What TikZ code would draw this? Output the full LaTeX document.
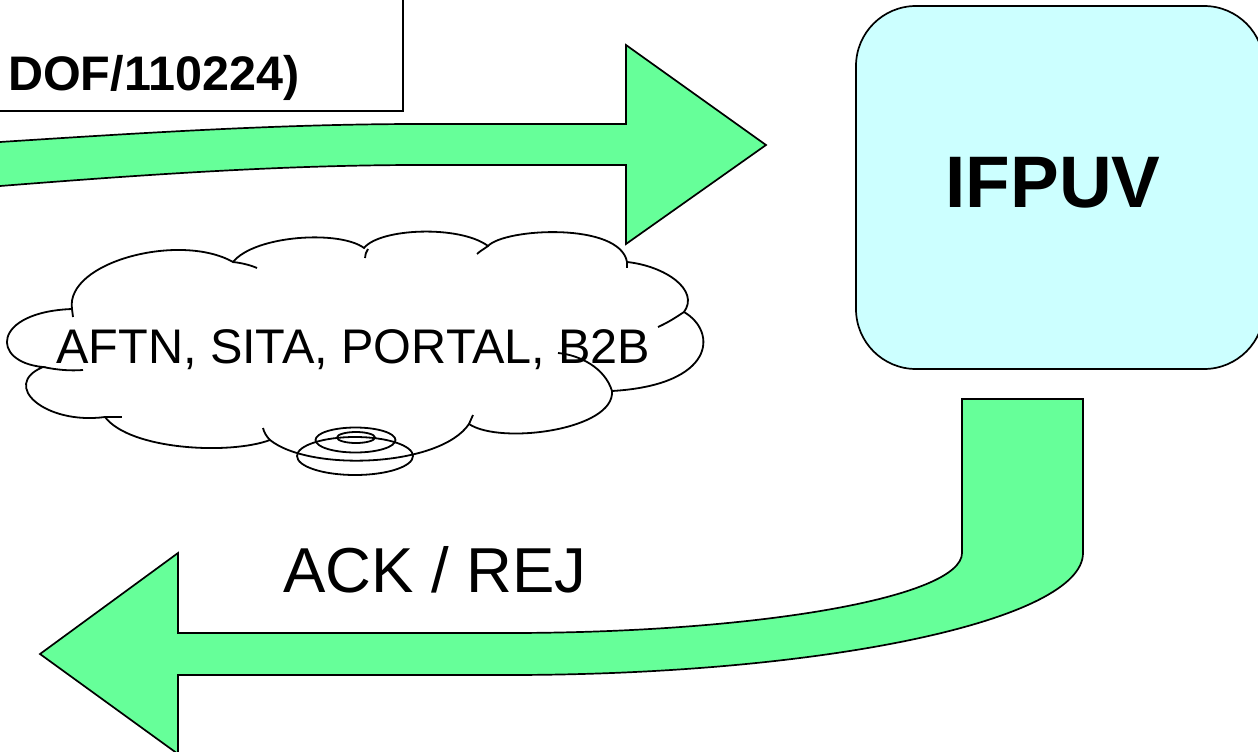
\documentclass[tikz,border=0pt]{standalone}
\usepackage{fontspec}
\setmainfont{Liberation Sans}
\definecolor{arrowgreen}{HTML}{66FF99}
\definecolor{boxcyan}{HTML}{CCFFFF}
\begin{document}
\begin{tikzpicture}[x=1pt,y=-1pt,line join=miter,
  blockarrow/.style={draw=black,fill=arrowgreen,line width=1.7pt},
  cloudline/.style={draw=black,line width=1.8pt},
  plainbox/.style={draw=black,fill=white,line width=1.7pt},
  lbl/.style={inner sep=0pt,anchor=base west}]
\useasboundingbox (0,0) rectangle (1258,752);
\clip (0,0) rectangle (1258,752);
\fill[white] (0,0) rectangle (1258,752);

% top-left text box (cut by the page edge)
\draw[plainbox] (-20,-20) rectangle (403,111);
\node[lbl] (dof) at (8,90) {\fontsize{48.5}{58}\selectfont\bfseries DOF/110224)};

% top block arrow
\draw[blockarrow] (-10,143) -- (0,142) .. controls (140,133) and (280,124) .. (420,124)
  -- (626,124) -- (626,45) -- (766,145) -- (626,244) -- (626,165) -- (420,165)
  .. controls (280,165) and (140,175) .. (0,186) -- (-10,187) -- cycle;

% IFPUV box
\draw[line width=1.7pt,fill=boxcyan,rounded corners=60pt] (856,6) rectangle (1264,369);
\node[inner sep=0pt] (ifpuv) at (1053,183) {\fontsize{73}{88}\selectfont\bfseries IFPUV};

% bottom block arrow
\draw[blockarrow] (962,399) -- (1083,399) -- (1083,553)
  .. controls (1083,620) and (825,675) .. (508,675) -- (178,675) -- (178,754)
  -- (40,654) -- (178,553) -- (178,633) -- (508,633)
  .. controls (759,633) and (962,597) .. (962,553) -- cycle;

\node[lbl] (ack) at (283,592) {\fontsize{63.5}{76}\selectfont ACK / REJ};

% cloud
\draw[cloudline,fill=white] (72,309)
  .. controls (65,262) and (180,232) .. (233,262)
  .. controls (255,235) and (340,230) .. (364,248)
  .. controls (380,228) and (460,225) .. (488,246)
  .. controls (505,228) and (620,222) .. (627,262)
  .. controls (665,266) and (700,290) .. (684,312)
  .. controls (718,332) and (715,385) .. (612,391)
  .. controls (615,430) and (500,445) .. (469,424)
  .. controls (440,467) and (310,472) .. (270,440)
  .. controls (230,455) and (130,450) .. (105,417)
  .. controls (45,425) and (0,385) .. (43,367)
  .. controls (-10,362) and (-8,312) .. (72,309) -- cycle;
% inner arc ends of the cloud
\draw[cloudline] (72,309) -- (73,317);
\draw[cloudline] (233,262) .. controls (242,263) and (250,265) .. (257,268);
\draw[cloudline] (368,249) .. controls (366,252) and (365,255) .. (365,258);
\draw[cloudline] (488,246) .. controls (484,249) and (480,251) .. (477,254);
\draw[cloudline] (627,262) -- (627,268);
\draw[cloudline] (684,312) .. controls (675,318) and (667,323) .. (658,327);
\draw[cloudline] (612,391) .. controls (605,368) and (580,355) .. (558,353);
\draw[cloudline] (469,424) -- (473,415);
\draw[cloudline] (270,440) .. controls (266,436) and (264,432) .. (263,428);
\draw[cloudline] (105,417) -- (122,417);
\draw[cloudline] (43,367) .. controls (58,370) and (70,371) .. (83,370);

% callout bubbles
\draw[cloudline] (355,456) ellipse[x radius=58pt,y radius=19pt];
\draw[cloudline] (355.5,440) ellipse[x radius=40pt,y radius=12.5pt];
\draw[cloudline] (356,437.5) ellipse[x radius=19pt,y radius=5.5pt];

\node[lbl] (net) at (56,363) {\fontsize{48.6}{58}\selectfont AFTN, SITA, PORTAL, B2B};
\end{tikzpicture}
\end{document}
